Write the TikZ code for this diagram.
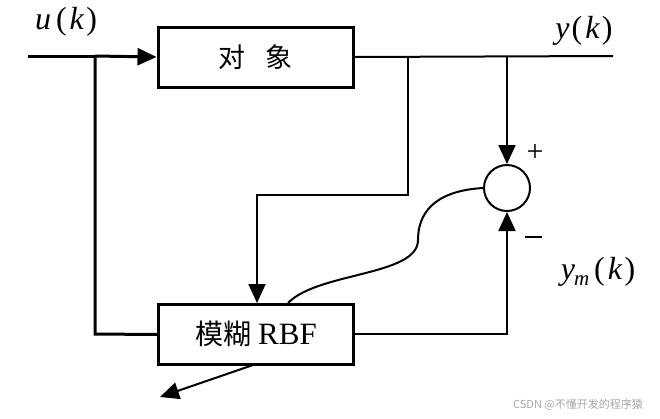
\documentclass[tikz,border=0pt]{standalone}
\usepackage{fontspec}
\setmainfont{Liberation Serif}
\newfontfamily\cjk{Noto Sans CJK SC}
\usetikzlibrary{arrows.meta}
\begin{document}
\begin{tikzpicture}[x=1pt,y=-1pt,
  blk/.style={draw,line width=3pt,minimum width=195pt,minimum height=60pt,inner sep=0pt},
  thk/.style={line width=3pt},
  thn/.style={line width=2pt},
  arr/.style={-{Triangle[length=19pt,width=17pt]}},
  lbl/.style={font=\fontsize{32}{34}\selectfont},
  sgn/.style={inner sep=0pt}]
\useasboundingbox (0,0) rectangle (660,418);
% blocks
\node[blk] (plant) at (255.5,57) {\cjk\fontsize{27}{29}\selectfont 对\hspace{20pt}象};
\node[blk] (rbf) at (256,334.5) {\fontsize{31}{33}\selectfont{\cjk\fontsize{28}{30}\selectfont 模糊}\hspace{7pt}RBF};
\node[draw,circle,line width=2pt,minimum size=46pt,inner sep=0pt] (sum) at (507,188) {};
% coordinates
\coordinate (in) at (28,56);
\coordinate (j1) at (95,56);
\coordinate (j2) at (408,56);
\coordinate (j3) at (507,56);
\coordinate (out) at (613,56);
\coordinate (fb) at (257,195);
\coordinate (low) at (95,334);
\coordinate (rr) at (507,334);
\coordinate (tip) at (160,397);
\coordinate (bot) at (253,365);
\coordinate (mid) at (418,240);
% connectors
\draw[thk] (in) -- (j1);
\draw[thk,arr] (j1) -- (plant.west);
\draw[thk] (j1) -- (low) -- (rbf.west);
\draw[thn] (plant.east) -- (out);
\draw[thn,arr] (j2) |- (fb) -- (rbf.north -| fb);
\draw[thn,arr] (j3) -- (sum.north);
\draw[thn,arr] (rbf.east |- rr) -- (rr) -- (sum.south);
\draw[thn] (sum.west) .. controls (432,191) and (418,215) .. (mid)
  .. controls (418,276) and (318,272) .. (rbf.north -| 288,0);
\draw[thn,arr] (bot) -- (tip);
% labels
\node[lbl] (lu) at (66,22) {\textit{u}\kern5pt(\kern3pt\textit{k}\kern2pt)};
\node[lbl] (ly) at (584,31) {\textit{y}\kern2pt(\kern3pt\textit{k}\kern2pt)};
\node[lbl] (lym) at (598,272) {\textit{y}\kern-1pt\raisebox{-6pt}{\fontsize{21}{22}\selectfont\textit{m}}\kern5pt(\kern3pt\textit{k}\kern2pt)};
\node[sgn] (plus) at (535,153) {\fontsize{30}{32}\selectfont +};
\node[sgn] (minus) at (533,237) {\rule{17pt}{1.5pt}};
\node[text=gray!70,font=\cjk\fontsize{11}{12}\selectfont] (wm) at (578,405) {CSDN @不懂开发的程序猿};
\end{tikzpicture}
\end{document}
